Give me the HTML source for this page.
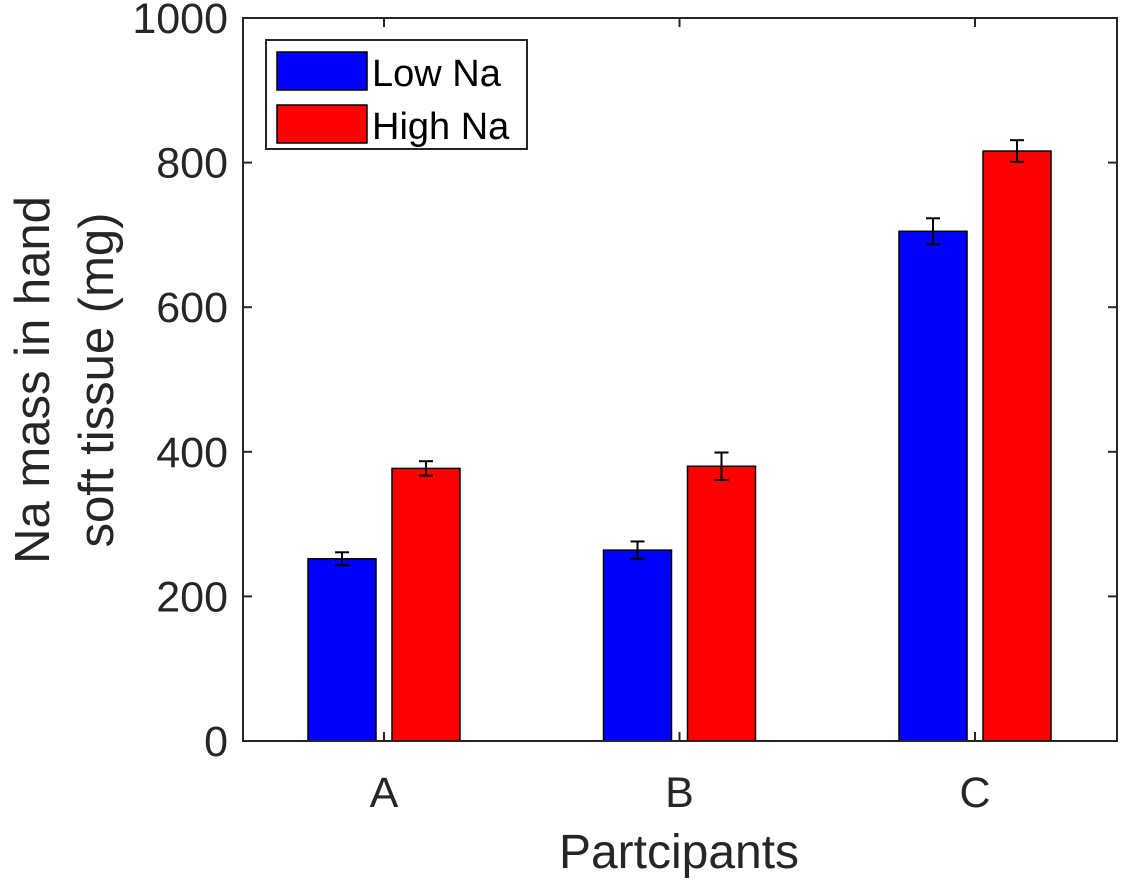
<!DOCTYPE html>
<html><head><meta charset="utf-8"><style>
html,body{margin:0;padding:0;background:#fff;}
svg{display:block;font-family:"Liberation Sans",Arial,sans-serif;}
</style></head><body>
<svg id="chart" width="1125" height="884" viewBox="0 0 1125 884">
<g id="grid"></g>
<g id="bars"></g>
<rect x="243" y="18" width="874" height="723" fill="none" stroke="#262626" stroke-width="2"/>
<g id="ticks"></g>
<text x="679" y="868" font-size="48" text-anchor="middle" fill="#262626">Partcipants</text>
<text transform="translate(49,380) rotate(-90)" font-size="49" text-anchor="middle" fill="#262626"><tspan x="0" dy="0">Na mass in hand</tspan><tspan x="0" dy="64">soft tissue (mg)</tspan></text>
<g>
<rect x="266" y="40" width="261" height="109" fill="#fff" stroke="#262626" stroke-width="2"/>
<rect x="277" y="52" width="90" height="38" fill="#0000ff" stroke="#000" stroke-width="1.5"/>
<text x="372" y="86" font-size="38" fill="#000">Low Na</text>
<rect x="277" y="105" width="90" height="38" fill="#ff0000" stroke="#000" stroke-width="1.5"/>
<text x="372" y="139" font-size="38" fill="#000">High Na</text>
</g>
</svg>
<script>
const categories = ["A","B","C"];
const lowNa = [252, 264, 705];
const highNa = [377, 380, 816];
const lowErr = [9, 12, 18];
const highErr = [10, 19, 15];
const yTicks = [0, 200, 400, 600, 800, 1000];

const NS = "http://www.w3.org/2000/svg";
const L = 243, R = 1117, T = 18, B = 741;
const yMax = 1000;
function y(v){ return B - (v / yMax) * (B - T); }
function xc(i){ return 384 + i * 295.5; }
const bw = 68, off = 42;
function mk(tag, attrs, parent){ const e = document.createElementNS(NS, tag); for (const k in attrs) e.setAttribute(k, attrs[k]); parent.appendChild(e); return e; }
const bars = document.getElementById("bars");
const ticks = document.getElementById("ticks");

function drawBar(cx, v, err, color, name){
  const r = mk("rect", {x: cx - bw/2, y: y(v), width: bw, height: B - y(v), fill: color, stroke: "#000", "stroke-width": 1.5}, bars);
  
  
  const g = mk("g", {stroke: "#000", "stroke-width": 2}, bars);
  
  
  mk("line", {x1: cx, x2: cx, y1: y(v + err), y2: y(v - err)}, g);
  mk("line", {x1: cx - 7, x2: cx + 7, y1: y(v + err), y2: y(v + err)}, g);
  mk("line", {x1: cx - 7, x2: cx + 7, y1: y(v - err), y2: y(v - err)}, g);
}
categories.forEach((c, i) => {
  drawBar(xc(i) - off, lowNa[i], lowErr[i], "#0000ff", "bar-low-" + c.toLowerCase());
  drawBar(xc(i) + off, highNa[i], highErr[i], "#ff0000", "bar-high-" + c.toLowerCase());
  const t = mk("text", {x: xc(i), y: 807, "font-size": 43, "text-anchor": "middle", fill: "#262626"}, ticks);
  t.textContent = c;
  
  
  mk("line", {x1: xc(i), x2: xc(i), y1: B, y2: B - 9, stroke: "#262626", "stroke-width": 2}, ticks);
  mk("line", {x1: xc(i), x2: xc(i), y1: T, y2: T + 9, stroke: "#262626", "stroke-width": 2}, ticks);
});
yTicks.forEach(v => {
  mk("line", {x1: L, x2: L + 9, y1: y(v), y2: y(v), stroke: "#262626", "stroke-width": 2}, ticks);
  mk("line", {x1: R, x2: R - 9, y1: y(v), y2: y(v), stroke: "#262626", "stroke-width": 2}, ticks);
  const t = mk("text", {x: 228, y: y(v) + 15, "font-size": 43, "text-anchor": "end", fill: "#262626"}, ticks);
  t.textContent = v;
  
  
});
</script>
</body></html>
